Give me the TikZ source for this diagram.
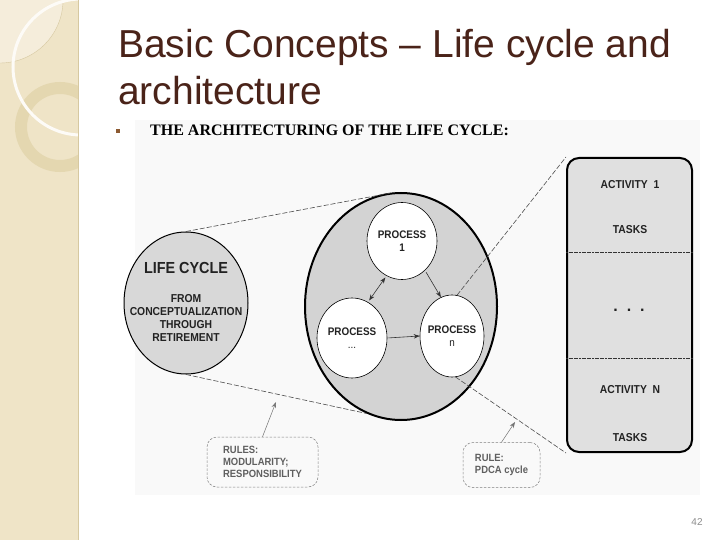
\documentclass[tikz,border=0pt]{standalone}
\usepackage{fontspec}
\setmainfont{Liberation Sans}
\newfontfamily\diagfont[FakeStretch=0.9]{Liberation Sans}
\newfontfamily\scanserif{Liberation Serif}
\usetikzlibrary{shapes.geometric,arrows.meta}
\definecolor{stripbeige}{RGB}{239,228,199}
\definecolor{stripedge}{RGB}{214,200,160}
\definecolor{ringbeige}{RGB}{228,215,176}
\definecolor{titlebrown}{RGB}{74,35,25}
\definecolor{bulletbrown}{RGB}{140,90,50}
\definecolor{scanbg}{RGB}{249,249,249}
\definecolor{lcgray}{RGB}{216,216,216}
\definecolor{archgray}{RGB}{211,211,211}
\definecolor{boxgray}{RGB}{224,224,224}
\definecolor{inkgray}{RGB}{34,34,34}
\definecolor{notegray}{RGB}{95,95,95}
\begin{document}
\begin{tikzpicture}[x=1pt,y=-1pt]
\tikzset{
    >={Stealth[length=6pt,width=4.5pt]},
    headline/.style={inner sep=0pt, text=titlebrown, font=\fontsize{39}{47}\selectfont},
    subhead/.style={inner sep=0pt, text=black, font=\scanserif\bfseries\fontsize{16}{18}\selectfont},
    bullet/.style={rectangle, fill=bulletbrown, inner sep=0pt, minimum size=3.5pt},
    lifecycle/.style={ellipse, draw=black, line width=1pt, fill=lcgray,
                      minimum width=124pt, minimum height=142pt},
    lcbig/.style={inner sep=0pt, text=inkgray, font=\diagfont\bfseries\fontsize{16}{18}\selectfont},
    lcsmall/.style={inner sep=0pt, align=center, text=inkgray,
                    font=\diagfont\bfseries\fontsize{11.5}{12.7}\selectfont},
    arch/.style={ellipse, draw=black, line width=2pt, fill=archgray,
                 minimum width=192pt, minimum height=227pt},
    proc/.style={ellipse, draw=black, line width=0.6pt, fill=white, inner sep=0pt},
    ptext/.style={inner sep=0pt, align=center, text=inkgray,
                  font=\diagfont\bfseries\fontsize{11}{13}\selectfont},
    flow/.style={->, line width=0.6pt, black!80},
    funnel/.style={-, line width=0.6pt, black!70, dash pattern=on 5pt off 2pt},
    actbox/.style={rectangle, rounded corners=12pt, draw=black, line width=2pt,
                   fill=boxgray, minimum width=125pt, minimum height=294pt},
    acttext/.style={inner sep=0pt, text=inkgray, font=\diagfont\bfseries\fontsize{11.5}{13}\selectfont},
    sepline/.style={line width=0.8pt, black!80, dash pattern=on 2pt off 0.6pt},
    note/.style={rectangle, rounded corners=10pt, draw=black!50, line width=0.5pt,
                 dash pattern=on 2.5pt off 1.5pt, align=left, text=notegray,
                 font=\diagfont\bfseries\fontsize{10.5}{11.8}\selectfont},
    pointer/.style={->, line width=0.5pt, black!55}
}
\useasboundingbox (0,0) rectangle (720,540);
% Left strip of the slide
\fill[stripbeige] (0,0) rectangle (78,540);
\begin{scope}
  \clip (0,0) rectangle (78,540);
  \fill[white!35!stripbeige] (0,0) circle[radius=63pt];
  \draw[stripedge, line width=0.4pt] (0,0) circle[radius=63pt];
  \draw[ringbeige, line width=12pt] (60,127) circle[radius=39pt];
  \draw[white!85!stripbeige, line width=3pt] (81,67) circle[radius=68pt];
\end{scope}
\draw[stripedge, line width=1pt] (78,0) -- (78,540);
% Title
\node[headline, anchor=base west] (t1) at (118,58) {Basic Concepts – Life cycle and};
\node[headline, anchor=base west] (t2) at (118,105) {architecture};
% Scanned figure
\fill[scanbg] (135,120) rectangle (700,495);
\node[bullet] (bul) at (118,131) {};
\node[subhead, anchor=west] (sub) at (150,130) {THE ARCHITECTURING OF THE LIFE CYCLE:};
% Life cycle
\node[lifecycle] (life) at (186,303) {};
\node[lcbig] (lctitle) at (186,268) {LIFE CYCLE};
\node[lcsmall] (lcspan) at (186,318) {FROM\\CONCEPTUALIZATION\\THROUGH\\RETIREMENT};
% Processes
\node[arch] (arch) at (401,306.5) {};
\node[proc, minimum width=70pt, minimum height=77pt,
      label={[ptext]center:PROCESS\\1}] (p1) at (402,241) {};
\node[proc, minimum width=70pt, minimum height=80pt,
      label={[ptext]center:PROCESS\\{\mdseries ...}}] (pdots) at (352,338) {};
\node[proc, minimum width=64pt, minimum height=82pt,
      label={[ptext]center:PROCESS\\{\mdseries n}}] (pn) at (452,336) {};
\draw[flow, <->, shorten <=2pt, shorten >=2pt] (p1.246) -- (pdots.66);
\draw[flow, shorten <=2pt] (p1.-52) -- (pn.106);
\draw[flow, shorten <=1pt] (pdots.east) -- (pn.west);
% Activities
\node[actbox] (acts) at (629.5,305) {};
\node[acttext] (act1) at (630,185) {ACTIVITY\ \ 1};
\node[acttext] (task1) at (630,230) {TASKS};
\node[acttext, font=\bfseries\fontsize{16}{16}\selectfont] (actdots) at (629,310) {.\ \ .\ \ .};
\node[acttext] (actn) at (630,390) {ACTIVITY\ \ N};
\node[acttext] (taskn) at (630,438) {TASKS};
\draw[sepline] (acts.west |- 0,252) -- (acts.east |- 0,252);
\draw[sepline] (acts.west |- 0,358) -- (acts.east |- 0,358);
% Zoom lines
\draw[funnel] (life.north) -- (arch.93);
\draw[funnel] (life.south) -- (arch.252);
\draw[funnel] (pn.83) -- (acts.north west);
\draw[funnel] (pn.-85) -- (acts.south west);
% Rules
\node[note, minimum width=111pt, minimum height=50pt] (rmod) at (262.5,462)
    {RULES:\\MODULARITY;\\RESPONSIBILITY};
\node[note, minimum width=77pt, minimum height=45pt] (rpdca) at (501.5,465)
    {RULE:\\PDCA cycle};
\coordinate (rmodtip) at (276,402);
\coordinate (rpdcatip) at (515,422);
\draw[pointer] (rmod.north) -- (rmodtip);
\draw[pointer] (rpdca.north) -- (rpdcatip);
% Page number
\node[text=black!45, font=\fontsize{10}{12}\selectfont] (page) at (697,522) {42};
\end{tikzpicture}
\end{document}
